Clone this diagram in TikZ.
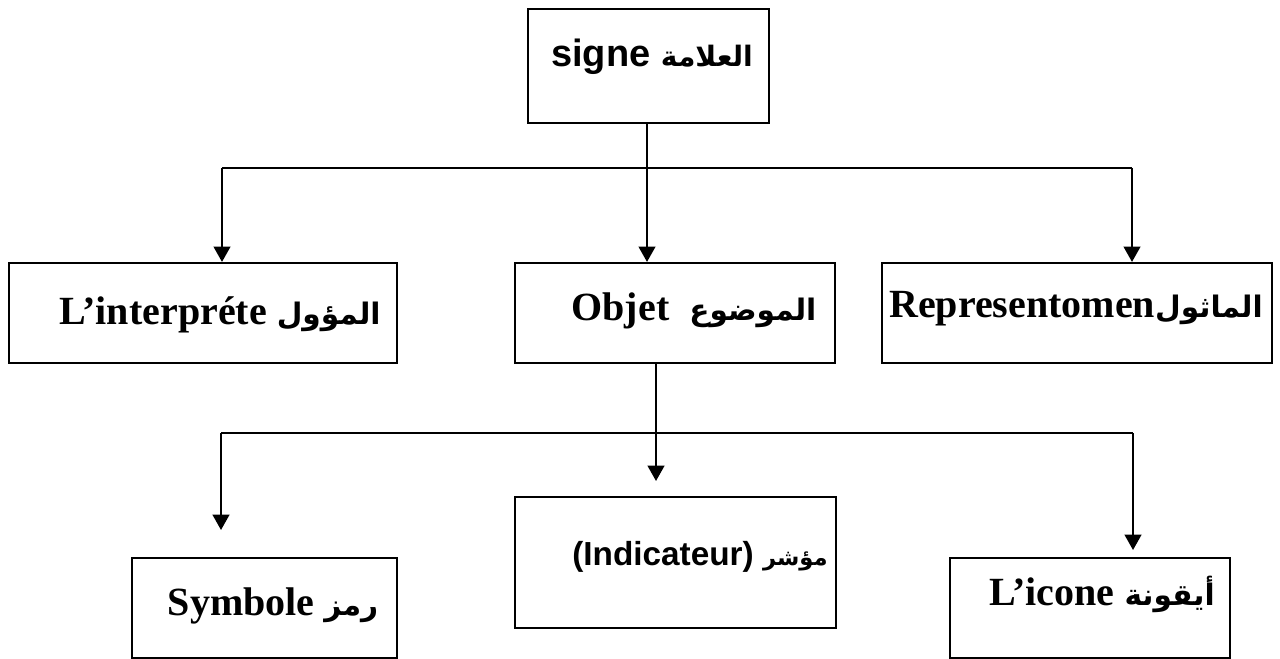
\documentclass[tikz,border=0pt]{standalone}
\usepackage{fontspec}
\setmainfont{Liberation Serif}
\newfontfamily\lsans{Liberation Sans}
\newfontfamily\ar[Script=Arabic,Scale=0.74]{DejaVu Sans}
\TeXXeTstate=1
\usetikzlibrary{arrows.meta,fit}
\tikzset{
  box/.style={draw=black, line width=1.6pt, inner sep=0pt, fill=white},
  conn/.style={draw=black, line width=1.6pt},
  arr/.style={conn, -{Triangle[width=12.5pt,length=11.5pt]}},
  lbl/.style={anchor=base, inner sep=0pt, font=\fontsize{30}{36}\selectfont\bfseries},
}
\begin{document}
\begin{tikzpicture}[x=0.75pt,y=-0.75pt]
\useasboundingbox (0,0) rectangle (1280,659);
% boxes
\node[box, fit={(528,9) (769,123)}] (signe) {};
\node[box, fit={(9,263) (397,363)}] (interp) {};
\node[box, fit={(515,263) (835,363)}] (objet) {};
\node[box, fit={(882,263) (1272,363)}] (repr) {};
\node[box, fit={(132,558) (397,658)}] (symb) {};
\node[box, fit={(515,497) (836,628)}] (ind) {};
\node[box, fit={(950,558) (1230,658)}] (icone) {};
% labels
\node[lbl] (tsigne) at (652,67) {\lsans\fontsize{28.5}{34}\selectfont signe \ar\beginR العلامة\endR};
\node[lbl] (tinterp) at (220,324) {L’interpréte \ar\beginR المؤول\endR};
\node[lbl] (tobjet) at (694,320) {Objet~ \ar\beginR الموضوع\endR};
\node[lbl, anchor=base east] (trepr) at (1263,317) {Representomen\ar\beginR الماثول\endR};
\node[lbl] (tsymb) at (273,615) {Symbole \ar\beginR رمز\endR};
\node[lbl, anchor=base west] (tind) at (572,565) {\lsans\fontsize{25}{30}\selectfont (Indicateur) \ar\fontsize{23}{28}\selectfont\beginR مؤشر\endR};
\node[lbl] (ticone) at (1102,605) {L’icone \ar\beginR أيقونة\endR};
% junction coordinates
\coordinate (j1) at (647,168);
\coordinate (jL) at (222,168);
\coordinate (jR) at (1132,168);
\coordinate (j2) at (656,433);
\coordinate (kL) at (221,433);
\coordinate (kR) at (1133,433);
\coordinate (eL) at (221,530);
\coordinate (eM) at (656,481);
\coordinate (eR) at (1133,550);
% connectors, first level
\draw[arr] (j1 |- signe.south) -- (j1 |- objet.north);
\draw[conn] (jL) -- (jR);
\draw[arr] (jL) -- (jL |- interp.north);
\draw[arr] (jR) -- (jR |- repr.north);
% connectors, second level
\draw[conn] (j2 |- objet.south) -- (j2);
\draw[conn] (kL) -- (kR);
\draw[arr] (j2) -- (eM);
\draw[arr] (kL) -- (eL);
\draw[arr] (kR) -- (eR);
\end{tikzpicture}
\end{document}
